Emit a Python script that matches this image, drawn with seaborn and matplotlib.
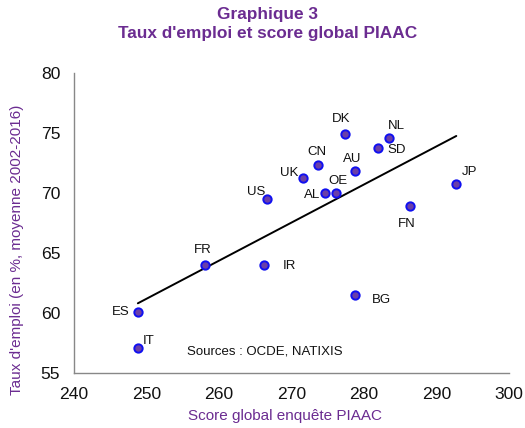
import matplotlib
matplotlib.use("Agg")
import matplotlib.pyplot as plt
import seaborn as sns
import pandas as pd

countries = ["DK", "NL", "SD", "CN", "AU", "UK", "JP", "AL", "OE", "US", "FN",
             "FR", "IR", "BG", "ES", "IT"]
score = [277.3, 283.4, 281.9, 273.7, 278.8, 271.6, 292.7, 274.6, 276.1, 266.6,
         286.3, 258.1, 266.2, 278.8, 248.8, 248.8]
emploi = [74.9, 74.55, 73.7, 72.35, 71.8, 71.25, 70.7, 70.0, 70.0, 69.5,
          68.9, 64.0, 64.0, 61.45, 60.1, 57.05]
xticks = [240, 250, 260, 270, 280, 290, 300]
yticks = [55, 60, 65, 70, 75, 80]

df = pd.DataFrame({"pays": countries, "score": score, "emploi": emploi})

# label offsets in pixels (dx right, dy up)
offsets = {"DK": (-3, 15), "NL": (8, 12), "SD": (19, -2), "CN": (-2, 13),
           "AU": (-3, 12), "UK": (-14, 5), "JP": (13, 12), "AL": (-13, -2),
           "OE": (2, 12), "US": (-11, 7), "FN": (-3, -18), "FR": (-3, 15),
           "IR": (25, -1), "BG": (26, -5), "ES": (-17, 0), "IT": (11, 7)}

sns.set_style("white")
plt.rcParams["font.family"] = ["Liberation Sans", "DejaVu Sans"]

purple = "#6B2C91"
fig = plt.figure(figsize=(5.25, 4.28), dpi=100)
ax = fig.add_axes([0.141, 0.129, 0.829, 0.701])

sns.regplot(data=df, x="score", y="emploi", scatter=False, ci=None, ax=ax,
            line_kws={"color": "black", "lw": 1.4})
sns.scatterplot(data=df, x="score", y="emploi", ax=ax, s=36,
                color="#6A3FA8", edgecolor="#1010F0", linewidth=1.4, zorder=5)

for _, r in df.iterrows():
    dx, dy = offsets[r["pays"]]
    ax.annotate(r["pays"], (r["score"], r["emploi"]), xytext=(dx, dy),
                textcoords="offset pixels", ha="center", va="center",
                fontsize=9.5, color="#111111")

ax.text(0.4375, 0.07, "Sources : OCDE, NATIXIS", transform=ax.transAxes,
        ha="center", va="center", fontsize=9.5, color="#111111")

ax.set_xlim(240, 300)
ax.set_ylim(55, 80)
ax.set_xticks(xticks)
ax.set_yticks(yticks)
ax.tick_params(axis="both", labelsize=12.6, colors="#888888", length=4,
               width=1, direction="out", labelcolor="#111111", pad=6)
for s in ["top", "right"]:
    ax.spines[s].set_visible(False)
for s in ["left", "bottom"]:
    ax.spines[s].set_color("#888888")
    ax.spines[s].set_linewidth(1)

ax.set_xlabel("")
ax.set_ylabel("")
fig.text(0.543, 0.027, "Score global enquête PIAAC", ha="center", va="center",
         fontsize=11, color=purple)
fig.text(0.032, 0.416, "Taux d'emploi (en %, moyenne 2002-2016)", ha="center",
         va="center", rotation=90, fontsize=11, color=purple)

fig.text(0.509, 0.967, "Graphique 3", ha="center", va="center",
         fontsize=12.4, fontweight="bold", color=purple)
fig.text(0.509, 0.921, "Taux d'emploi et score global PIAAC", ha="center",
         va="center", fontsize=12.4, fontweight="bold", color=purple)

fig.savefig("out.png", dpi=100)
